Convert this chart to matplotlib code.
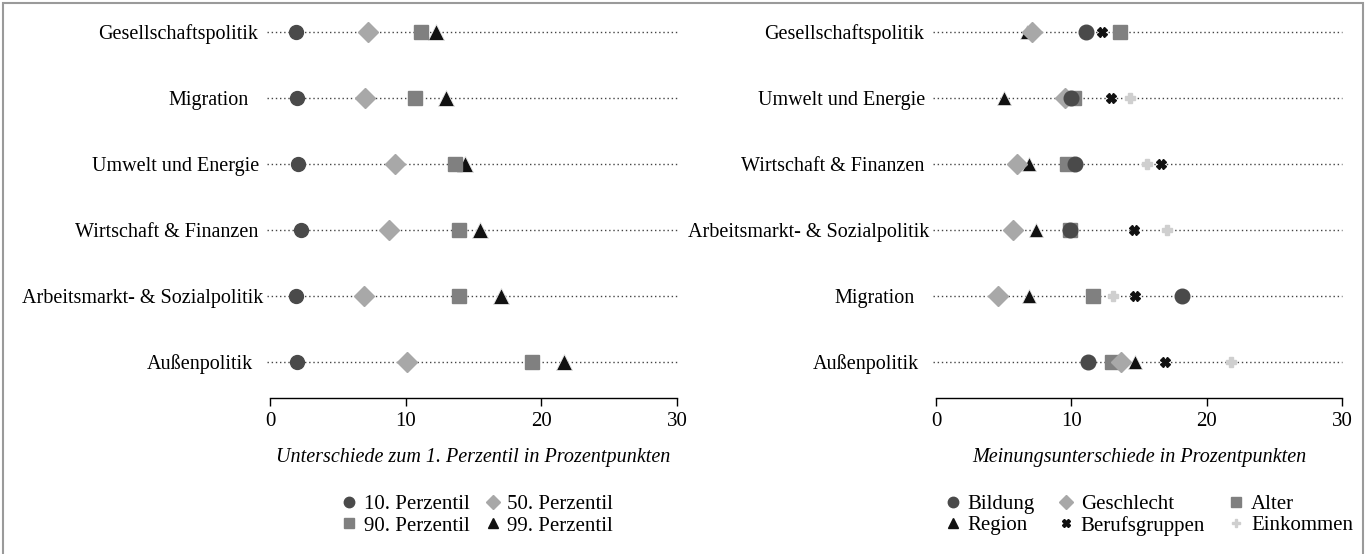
import matplotlib
matplotlib.use("Agg")
import matplotlib.pyplot as plt
from matplotlib.lines import Line2D
from matplotlib.patches import Rectangle

plt.rcParams['font.family'] = ['Liberation Serif', 'DejaVu Serif']

# left panel: differences to the 1st percentile
left_topics = ['Gesellschaftspolitik', 'Migration', 'Umwelt und Energie',
               'Wirtschaft & Finanzen', 'Arbeitsmarkt- & Sozialpolitik', 'Außenpolitik']
p10 = [1.9, 2.0, 2.1, 2.3, 1.9, 2.0]
p50 = [7.2, 7.0, 9.2, 8.8, 6.9, 10.1]
p90 = [11.1, 10.7, 13.6, 13.9, 13.9, 19.3]
p99 = [12.2, 13.0, 14.4, 15.5, 17.0, 21.7]

# right panel: opinion differences by group
right_topics = ['Gesellschaftspolitik', 'Umwelt und Energie', 'Wirtschaft & Finanzen',
                'Arbeitsmarkt- & Sozialpolitik', 'Migration', 'Außenpolitik']
bildung = [11.1, 10.0, 10.3, 9.9, 18.2, 11.2]
geschlecht = [7.1, 9.5, 6.0, 5.7, 4.6, 13.7]
alter = [13.6, 10.2, 9.7, 9.9, 11.6, 13.0]
region = [6.7, 5.0, 6.9, 7.4, 6.9, 14.7]
berufsgruppen = [12.3, 12.9, 16.6, 14.6, 14.7, 16.9]
einkommen = [11.0, 14.3, 15.6, 17.1, 13.1, 21.8]

# label padding (px) to mimic the uneven spacing of the original
label_pad = {'Gesellschaftspolitik': 12, 'Migration': 21, 'Umwelt und Energie': 10.5,
             'Wirtschaft & Finanzen': 12, 'Arbeitsmarkt- & Sozialpolitik': 6.5,
             'Außenpolitik': 17.5}

FS = 14.5
C_DARK = '#4a4a4a'
C_LIGHT = '#a8a8a8'
C_MID = '#808080'
C_BLACK = '#111111'
C_PALE = '#cfcfcf'

fig = plt.figure(figsize=(13.67, 5.54), dpi=100)
ax_l = fig.add_axes([270 / 1367, 156 / 554, 407 / 1367, 388 / 554])
ax_r = fig.add_axes([936 / 1367, 156 / 554, 406 / 1367, 388 / 554])


def style_axis(ax, topics, xlabel):
    n = len(topics)
    ys = [n - 1 - i for i in range(n)]
    for y in ys:
        ax.plot([-0.25, 30], [y, y], ls=(0, (1, 2)), color='#444444', lw=1.0,
                zorder=1, clip_on=False)
    ax.set_xlim(0, 30)
    ax.set_ylim(-0.545, n - 1 + 0.333)
    ax.set_xticks([0, 10, 20, 30])
    ax.set_yticks(ys, topics)
    for tick, t in zip(ax.yaxis.get_major_ticks(), topics):
        tick.set_pad(label_pad[t] * 0.72)
    ax.tick_params(axis='y', length=0, labelsize=FS)
    ax.tick_params(axis='x', length=6, width=1.0, direction='out', labelsize=FS + 0.5, pad=4)
    for s in ['top', 'right', 'left']:
        ax.spines[s].set_visible(False)
    ax.spines['bottom'].set_linewidth(1.0)
    ax.set_xlabel(xlabel, fontsize=FS, style='italic', labelpad=12)
    return ys


ys_l = style_axis(ax_l, left_topics, 'Unterschiede zum 1. Perzentil in Prozentpunkten')
ax_l.plot(p99, ys_l, ls='none', marker='^', ms=11.5, color=C_BLACK, mec='#e8e8e8', mew=0.6, zorder=3)
ax_l.plot(p90, ys_l, ls='none', marker='s', ms=10, color=C_MID, mec=C_MID, zorder=4)
ax_l.plot(p50, ys_l, ls='none', marker='D', ms=10.5, color=C_LIGHT, mec=C_LIGHT, zorder=5)
ax_l.plot(p10, ys_l, ls='none', marker='o', ms=10, color=C_DARK, mec=C_DARK, zorder=6)

ys_r = style_axis(ax_r, right_topics, 'Meinungsunterschiede in Prozentpunkten')
ax_r.plot(einkommen, ys_r, ls='none', marker='P', ms=7, color=C_PALE, mec=C_PALE, zorder=2)
ax_r.plot(berufsgruppen, ys_r, ls='none', marker='X', ms=7, color=C_BLACK, mec=C_BLACK, zorder=3)
ax_r.plot(region, ys_r, ls='none', marker='^', ms=10, color=C_BLACK, mec='#e8e8e8', mew=0.5, zorder=4)
ax_r.plot(alter, ys_r, ls='none', marker='s', ms=9.5, color=C_MID, mec=C_MID, zorder=5)
ax_r.plot(geschlecht, ys_r, ls='none', marker='D', ms=10, color=C_LIGHT, mec=C_LIGHT, zorder=6)
ax_r.plot(bildung, ys_r, ls='none', marker='o', ms=10.5, color=C_DARK, mec=C_DARK, zorder=7)

# legends
def handle(marker, color, ms):
    return Line2D([], [], ls='none', marker=marker, color=color, mec=color, ms=ms)


h_left = [handle('o', C_DARK, 7.5), handle('s', C_MID, 7.5),
          handle('D', C_LIGHT, 7), handle('^', C_BLACK, 7.5)]
l_left = ['10. Perzentil', '90. Perzentil', '50. Perzentil', '99. Perzentil']
fig.legend(h_left, l_left, ncol=2, loc='center', bbox_to_anchor=(478 / 1367, 1 - 515 / 554),
           frameon=False, fontsize=FS + 0.5, handlelength=0.6, handletextpad=0.4,
           columnspacing=0.8, labelspacing=0.1, borderpad=0)

h_right = [handle('o', C_DARK, 7.5), handle('^', C_BLACK, 7.5),
           handle('D', C_LIGHT, 7), handle('X', C_BLACK, 5.5),
           handle('s', C_MID, 7.5), handle('P', C_PALE, 5.5)]
l_right = ['Bildung', 'Region', 'Geschlecht', 'Berufsgruppen', 'Alter', 'Einkommen']
fig.legend(h_right, l_right, ncol=3, loc='center', bbox_to_anchor=(1150 / 1367, 1 - 515 / 554),
           frameon=False, fontsize=FS + 0.5, handlelength=0.6, handletextpad=0.4,
           columnspacing=1.2, labelspacing=0.1, borderpad=0)

# thin grey frame around the figure
fig.patches.append(Rectangle((3 / 1367, -0.02), 1360 / 1367, 1.02 - 3 / 554,
                             transform=fig.transFigure, fill=False,
                             edgecolor='#9a9a9a', lw=1.5))

fig.savefig('out.png', dpi=100)
